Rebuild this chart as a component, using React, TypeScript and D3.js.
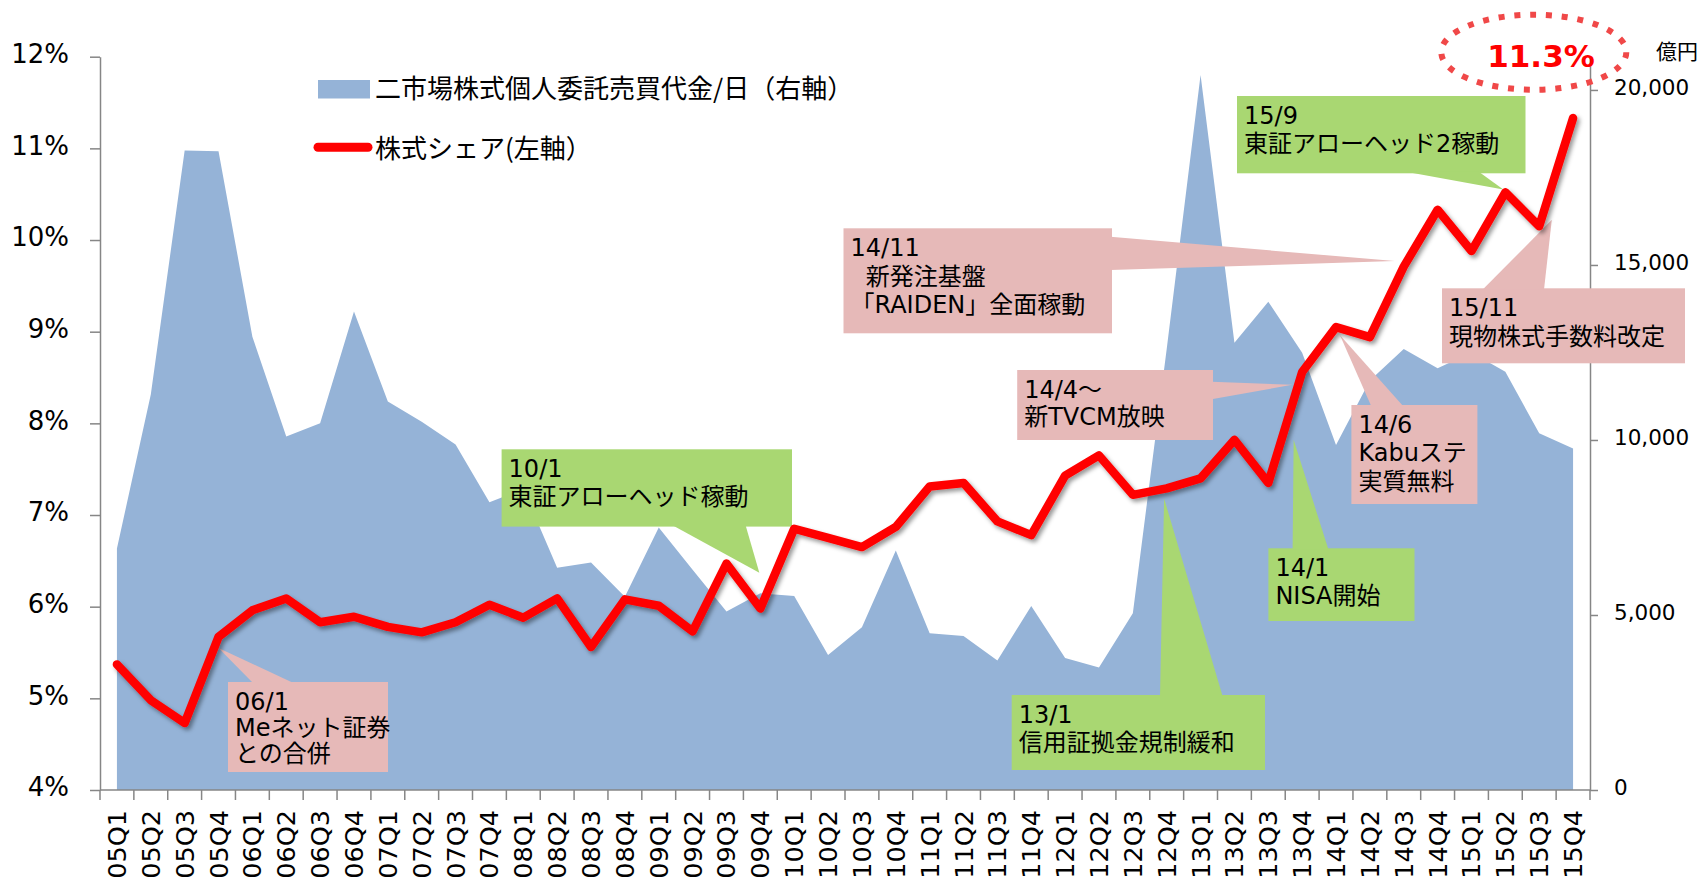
import React, { useEffect, useRef } from "react";
import * as d3 from "d3";

// quarters on the x axis
const quarters = [
  "05Q1", "05Q2", "05Q3", "05Q4", "06Q1", "06Q2", "06Q3", "06Q4",
  "07Q1", "07Q2", "07Q3", "07Q4", "08Q1", "08Q2", "08Q3", "08Q4",
  "09Q1", "09Q2", "09Q3", "09Q4", "10Q1", "10Q2", "10Q3", "10Q4",
  "11Q1", "11Q2", "11Q3", "11Q4", "12Q1", "12Q2", "12Q3", "12Q4",
  "13Q1", "13Q2", "13Q3", "13Q4", "14Q1", "14Q2", "14Q3", "14Q4",
  "15Q1", "15Q2", "15Q3", "15Q4",
];

// 二市場株式個人委託売買代金/日 (億円, right axis)
const tradingValue = [
  6900, 11300, 18270, 18250, 12950, 10100, 10480, 13670,
  11100, 10520, 9870, 8220, 8600, 6350, 6500, 5520,
  7500, 6290, 5100, 5620, 5540, 3860, 4650, 6840,
  4480, 4400, 3700, 5260, 3770, 3500, 5050, 12600,
  20430, 12780, 13950, 12490, 9860, 11700, 12600, 12050,
  12500, 11950, 10190, 9760,
];

// 株式シェア (%, left axis)
const stockShare = [
  5.37, 4.98, 4.73, 5.67, 5.96, 6.09, 5.83, 5.89,
  5.78, 5.72, 5.83, 6.02, 5.88, 6.09, 5.56, 6.08,
  6.01, 5.73, 6.47, 5.98, 6.85, 6.75, 6.65, 6.87,
  7.31, 7.35, 6.93, 6.78, 7.43, 7.65, 7.22, 7.29,
  7.4, 7.82, 7.35, 8.56, 9.05, 8.94, 9.71, 10.33,
  9.88, 10.52, 10.15, 11.33,
];

const leftTicks = [4, 5, 6, 7, 8, 9, 10, 11, 12];
const rightTicks = [0, 5000, 10000, 15000, 20000];
const legendLabels = ["二市場株式個人委託売買代金/日（右軸）", "株式シェア(左軸）"];
const rightUnit = "億円";
const latestShare = "11.3%";

const PINK = "#E6B9B8";
const GREEN = "#A9D772";
const BLUE = "#95B3D7";
const AXIS = "#868686";
const LATIN = "'DejaVu Sans', 'Noto Sans CJK JP', sans-serif";
const CJK = "'Noto Sans CJK JP', 'DejaVu Sans', sans-serif";

// callouts: box [x, y, w, h], pointer base points, tip anchored on a quarter + share value
const callouts = [
  { lines: ["06/1", "Meネット証券", "との合併"], fill: PINK, box: [228, 682, 160, 90], base: [[253.5, 682], [294.5, 682]], at: ["05Q4", 5.55, 0], lh: 26 },
  { lines: ["10/1", "東証アローヘッド稼動"], fill: GREEN, box: [501.6, 449.3, 290.4, 77.3], base: [[672, 526.6], [745.5, 526.6]], at: ["09Q4", 6.37, -1], lh: 28.5 },
  { lines: ["13/1", "信用証拠金規制緩和"], fill: GREEN, box: [1011.7, 695, 253.3, 75], base: [[1160, 695], [1222.7, 695]], at: ["12Q4", 7.18, -2.6], lh: 28.5 },
  { lines: ["14/1", "NISA開始"], fill: GREEN, box: [1268.4, 548.3, 146.1, 72.7], base: [[1292.6, 548.3], [1328.5, 548.3]], at: ["13Q4", 7.82, -8.5], lh: 28.5 },
  { lines: ["14/4～", "新TVCM放映"], fill: PINK, box: [1017.2, 370, 195.8, 70], base: [[1213, 381.7], [1213, 399.3]], at: ["13Q4", 8.42, -10], lh: 27.5 },
  { lines: ["14/11", "\u00a0\u00a0新発注基盤", "「RAIDEN」全面稼動"], fill: PINK, box: [843.5, 228.3, 268.5, 105], base: [[1112, 236.7], [1112, 270]], at: ["14Q3", 9.77, -9], lh: 28.8 },
  { lines: ["14/6", "Kabuステ", "実質無料"], fill: PINK, box: [1351.4, 405, 126, 99], base: [[1371.4, 405], [1403.5, 405]], at: ["14Q1", 8.96, 4], lh: 28.5 },
  { lines: ["15/9", "東証アローヘッド2稼動"], fill: GREEN, box: [1237, 96, 288.5, 77.3], base: [[1405.9, 173.3], [1478.8, 173.3]], at: ["15Q2", 10.55, -2], lh: 28.5 },
  { lines: ["15/11", "現物株式手数料改定"], fill: PINK, box: [1442, 288.3, 243, 75], base: [[1482.5, 288.3], [1544, 288.3]], at: ["15Q3", 10.22, 12.6], lh: 29 },
];

const W = 1706;
const H = 880;

const App = () => {
  const svgRef = useRef<SVGSVGElement>(null);

  useEffect(() => {
    const svg = d3.select(svgRef.current);
    svg.selectAll("*").remove();

    const left = 100;
    const right = 1590;
    const bottom = 790;
    const top = 56.7;

    const x = d3.scaleBand().domain(quarters).range([left, right]).padding(0);
    const bw = x.bandwidth();
    const cx = (q: string) => (x(q) as number) + bw / 2;
    const yL = d3.scaleLinear().domain([4, 12]).range([bottom, top]);
    const yR = d3.scaleLinear().domain([0, 20950]).range([bottom, top]);

    const defs = svg.append("defs");
    const f = defs.append("filter").attr("id", "shadow").attr("x", "-5%").attr("y", "-5%").attr("width", "110%").attr("height", "120%");
    f.append("feDropShadow")
      .attr("dx", 2.5)
      .attr("dy", 3)
      .attr("stdDeviation", 2)
      .attr("flood-color", "#000")
      .attr("flood-opacity", 0.4);

    const rows = quarters.map((q, i) => ({ q, v: tradingValue[i], s: stockShare[i] }));

    // area (right axis)
    const area = d3
      .area<any>()
      .x((d) => cx(d.q))
      .y0(yR(0))
      .y1((d) => yR(d.v));
    svg.append("path").datum(rows).attr("d", area).attr("fill", BLUE);

    // axes
    const gl = svg.append("g").attr("transform", `translate(${left},0)`).call(
      d3.axisLeft(yL).tickValues(leftTicks).tickSize(10).tickSizeOuter(0).tickPadding(21).tickFormat((d) => `${d}%`)
    );
    const gr = svg.append("g").attr("transform", `translate(${right},0)`).call(
      d3.axisRight(yR).tickValues(rightTicks).tickSize(8).tickSizeOuter(0).tickPadding(16).tickFormat(d3.format(","))
    );
    [gl, gr].forEach((g) => {
      g.select(".domain").attr("stroke", AXIS).attr("stroke-width", 1.5);
      g.selectAll(".tick line").attr("stroke", AXIS).attr("stroke-width", 1.5);
      g.selectAll(".tick text").attr("fill", "#000").attr("font-family", LATIN).attr("dy", "0.22em");
    });
    gl.selectAll(".tick text").attr("font-size", 26);
    gr.selectAll(".tick text").attr("font-size", 21.5);

    const gb = svg.append("g");
    gb.append("line").attr("x1", left).attr("x2", right).attr("y1", bottom).attr("y2", bottom).attr("stroke", AXIS).attr("stroke-width", 1.5);
    const edges = quarters.map((q) => x(q) as number).concat([right]);
    gb.selectAll("line.tk")
      .data(edges)
      .enter()
      .append("line")
      .attr("class", "tk")
      .attr("x1", (d) => d)
      .attr("x2", (d) => d)
      .attr("y1", bottom)
      .attr("y2", bottom + 10)
      .attr("stroke", AXIS)
      .attr("stroke-width", 1.5);
    gb.selectAll("text")
      .data(quarters)
      .enter()
      .append("text")
      .attr("transform", (d) => `translate(${cx(d)},${bottom + 20}) rotate(-90)`)
      .attr("text-anchor", "end")
      .attr("dominant-baseline", "central")
      .attr("font-family", LATIN)
      .attr("font-size", 25.5)
      .attr("fill", "#000")
      .text((d) => d);

    // callouts
    const gc = svg.append("g");
    callouts.forEach((c) => {
      const [bx, by, bwid, bh] = c.box as number[];
      const tip = [cx(c.at[0] as string) + (c.at[2] as number), yL(c.at[1] as number)];
      const base = (c.base as number[][]).map(([px, py]) => [
        px >= bx + bwid - 0.1 ? px - 1.5 : px <= bx + 0.1 ? px + 1.5 : px,
        py >= by + bh - 0.1 ? py - 1.5 : py <= by + 0.1 ? py + 1.5 : py,
      ]);
      gc.append("rect").attr("x", bx).attr("y", by).attr("width", bwid).attr("height", bh).attr("fill", c.fill);
      gc.append("polygon")
        .attr("points", [...base, tip].map((p) => p.join(",")).join(" "))
        .attr("fill", c.fill);
      c.lines.forEach((t, i) => {
        gc.append("text")
          .attr("x", bx + 7)
          .attr("y", by + 19.5 + i * c.lh)
          .attr("dominant-baseline", "central")
          .attr("font-family", LATIN)
          .attr("font-size", 24)
          .attr("fill", "#000")
          .text(t);
      });
    });

    // share line (left axis)
    const line = d3
      .line<any>()
      .x((d) => cx(d.q))
      .y((d) => yL(d.s));
    svg.append("path")
      .datum(rows)
      .attr("d", line)
      .attr("fill", "none")
      .attr("stroke", "#FF0000")
      .attr("stroke-width", 8.5)
      .attr("stroke-linejoin", "round")
      .attr("stroke-linecap", "round")
      .attr("filter", "url(#shadow)");

    // legend
    const lg = svg.append("g");
    lg.append("rect").attr("x", 318).attr("y", 80).attr("width", 52).attr("height", 18.5).attr("fill", BLUE);
    lg.append("line").attr("x1", 318).attr("x2", 368).attr("y1", 147.3).attr("y2", 147.3)
      .attr("stroke", "#FF0000").attr("stroke-width", 9).attr("stroke-linecap", "round");
    legendLabels.forEach((t, i) => {
      lg.append("text")
        .attr("x", 375)
        .attr("y", i === 0 ? 86.7 : 146.7)
        .attr("dominant-baseline", "central")
        .attr("font-family", CJK)
        .attr("font-size", 26)
        .attr("fill", "#000")
        .text(t);
    });

    // highlight of latest share
    svg.append("ellipse")
      .attr("cx", 1533.8)
      .attr("cy", 52.2)
      .attr("rx", 92.5)
      .attr("ry", 37.5)
      .attr("fill", "none")
      .attr("stroke", "#F04848")
      .attr("stroke-width", 6)
      .attr("stroke-dasharray", "6 9.8");
    svg.append("text")
      .attr("x", 1541)
      .attr("y", 56.3)
      .attr("text-anchor", "middle")
      .attr("dominant-baseline", "central")
      .attr("font-family", LATIN)
      .attr("font-weight", "bold")
      .attr("font-size", 31)
      .attr("fill", "#FF0000")
      .text(latestShare);

    svg.append("text")
      .attr("x", 1656)
      .attr("y", 50)
      .attr("dominant-baseline", "central")
      .attr("font-family", CJK)
      .attr("font-size", 21)
      .attr("fill", "#000")
      .text(rightUnit);
  }, []);

  return (
    <div style={{ position: "absolute", left: 0, top: 0, width: W, height: H, background: "#fff" }}>
      <svg ref={svgRef} width={W} height={H} viewBox={`0 0 ${W} ${H}`} />
    </div>
  );
};

export default App;
